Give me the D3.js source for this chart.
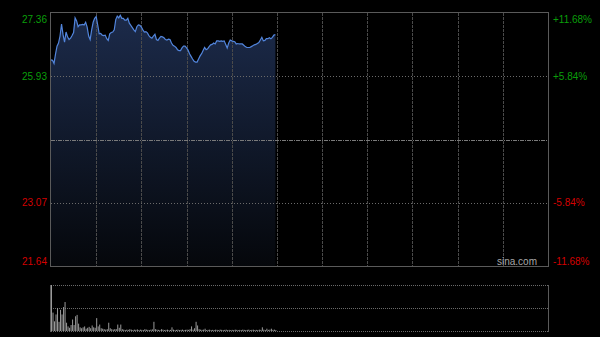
<!DOCTYPE html>
<html>
<head>
<meta charset="utf-8">
<script src="https://cdn.jsdelivr.net/npm/d3@7/dist/d3.min.js"></script>
<style>
  html, body { margin: 0; padding: 0; background: #000; }
  svg { display: block; }
  text { font-family: Arial, "Liberation Sans", sans-serif; font-size: 10px; }
</style>
</head>
<body>
<svg id="chart" width="600" height="337"></svg>
<script>
// intraday session, one value per minute from 9:30
var prevClose = 24.50;
var priceTicks = [21.64, 23.07, 24.50, 25.93, 27.36];
var pctTicks = ['-11.68%', '-5.84%', '', '+5.84%', '+11.68%'];
var timeTicks = [30, 60, 90, 120, 150, 180, 210, 240, 270, 300];

var prices = [
  26.30, 26.29, 26.22, 26.43, 26.61, 26.68, 26.84, 27.11, 26.87, 26.70,
  26.93, 26.82, 26.76, 26.79, 26.85, 26.92, 27.25, 27.18, 27.05, 27.09,
  27.09, 27.10, 27.09, 27.15, 27.04, 26.84, 26.76, 26.98, 27.15, 27.24,
  27.28, 27.09, 26.89, 26.90, 26.86, 26.85, 26.86, 26.78, 26.74, 26.89,
  26.92, 26.93, 26.98, 27.21, 27.29, 27.25, 27.31, 27.24, 27.24, 27.20,
  27.20, 27.24, 27.13, 27.08, 27.03, 26.98, 26.94, 27.05, 27.09, 27.08,
  27.04, 26.98, 26.93, 26.94, 26.91, 26.85, 26.81, 26.79, 26.84, 26.88,
  26.76, 26.74, 26.79, 26.83, 26.82, 26.80, 26.76, 26.75, 26.77, 26.76,
  26.68, 26.63, 26.61, 26.58, 26.53, 26.51, 26.51, 26.57, 26.61, 26.61,
  26.57, 26.52, 26.44, 26.38, 26.32, 26.27, 26.25, 26.25, 26.32, 26.39,
  26.44, 26.51, 26.58, 26.53, 26.55, 26.60, 26.64, 26.65, 26.68, 26.66,
  26.73, 26.73, 26.72, 26.73, 26.72, 26.73, 26.65, 26.57, 26.68, 26.75,
  26.73, 26.72, 26.71, 26.66, 26.67, 26.66, 26.66, 26.66, 26.63, 26.60,
  26.58, 26.58, 26.58, 26.60, 26.62, 26.64, 26.65, 26.67, 26.69, 26.75,
  26.81, 26.73, 26.74, 26.78, 26.78, 26.80, 26.78, 26.81, 26.86, 26.87
];

var volumes = [
  1000, 400, 210, 360, 500, 200, 460, 360, 520, 630,
  180, 100, 70, 130, 250, 130, 320, 350, 160, 80,
  60, 80, 100, 50, 70, 90, 60, 120, 80, 70,
  280, 100, 140, 60, 50, 40, 30, 40, 180, 60,
  40, 30, 40, 40, 140, 70, 140, 40, 30, 20,
  30, 25, 40, 30, 20, 30, 25, 35, 20, 30,
  25, 20, 40, 30, 25, 20, 30, 35, 200, 40,
  30, 25, 20, 40, 30, 20, 25, 30, 20, 25,
  80, 30, 20, 25, 30, 20, 25, 30, 20, 25,
  30, 25, 40, 100, 30, 60, 200, 120, 40, 30,
  25, 30, 50, 20, 25, 30, 20, 25, 20, 30,
  25, 20, 30, 25, 20, 25, 30, 20, 25, 20,
  25, 20, 30, 25, 20, 25, 20, 30, 25, 20,
  25, 30, 20, 25, 30, 20, 25, 20, 30, 25,
  80, 30, 20, 50, 25, 30, 50, 25, 30, 20
];

var svg = d3.select('#chart');
var pLeft = 51, pRight = 548, pTop = 13, pBottom = 266;
var vTop = 285, vBottom = 331;

var xScale = d3.scaleLinear().domain([0, 330]).range([pLeft, pRight]);
var yScale = d3.scaleLinear().domain([21.64, 27.36]).range([pBottom, pTop]);
var vScale = d3.scaleLinear().domain([0, d3.max(volumes)]).range([vBottom, vTop]);

// area gradient
var defs = svg.append('defs');
var grad = defs.append('linearGradient')
  .attr('id', 'areaGrad')
  .attr('gradientUnits', 'userSpaceOnUse')
  .attr('x1', 0).attr('x2', 0)
  .attr('y1', pTop).attr('y2', pBottom);
grad.append('stop').attr('offset', '0%').attr('stop-color', '#1c2b4b');
grad.append('stop').attr('offset', '100%').attr('stop-color', '#05070b');

var area = d3.area()
  .x(function (d, i) { return xScale(i); })
  .y0(pBottom)
  .y1(function (d) { return yScale(d); });

svg.append('path')
  .datum(prices)
  .attr('d', area)
  .attr('fill', 'url(#areaGrad)');

// vertical grid
svg.append('g')
  .selectAll('line')
  .data(timeTicks)
  .enter()
  .append('line')
  .attr('x1', function (d) { return Math.round(xScale(d)) + 0.5; })
  .attr('x2', function (d) { return Math.round(xScale(d)) + 0.5; })
  .attr('y1', pTop)
  .attr('y2', pBottom)
  .attr('stroke', '#4a4a4a')
  .attr('stroke-dasharray', '3,1');

// horizontal grid
svg.append('g')
  .selectAll('line')
  .data([23.07, 25.93])
  .enter()
  .append('line')
  .attr('x1', pLeft)
  .attr('x2', pRight)
  .attr('y1', function (d) { return Math.round(yScale(d)) + 0.5; })
  .attr('y2', function (d) { return Math.round(yScale(d)) + 0.5; })
  .attr('stroke', '#6a6a6a')
  .attr('stroke-dasharray', '1,2');

svg.append('line')
  .attr('x1', pLeft)
  .attr('x2', pRight)
  .attr('y1', Math.round(yScale(prevClose)) + 0.5)
  .attr('y2', Math.round(yScale(prevClose)) + 0.5)
  .attr('stroke', '#7a7a7a')
  .attr('stroke-dasharray', '4,1,1,1');

// price line
var line = d3.line()
  .x(function (d, i) { return xScale(i); })
  .y(function (d) { return yScale(d); });

svg.append('path')
  .datum(prices)
  .attr('d', line)
  .attr('fill', 'none')
  .attr('stroke', '#5285dc')
  .attr('stroke-width', 1.2);

// frame
svg.append('rect')
  .attr('x', pLeft - 0.5)
  .attr('y', pTop - 0.5)
  .attr('width', pRight - pLeft + 1)
  .attr('height', pBottom - pTop + 1)
  .attr('fill', 'none')
  .attr('stroke', '#5a5a5a');

function labelDy(d) {
  if (d === 27.36) return '0.9em';
  if (d === 21.64) return '-0.2em';
  return '0.32em';
}

// left axis labels
var yAxisL = d3.axisLeft(yScale)
  .tickValues(priceTicks.filter(function (d) { return d !== prevClose; }))
  .tickSize(0)
  .tickPadding(4)
  .tickFormat(d3.format('.2f'));

var gL = svg.append('g')
  .attr('transform', 'translate(' + pLeft + ',0)')
  .call(yAxisL);
gL.select('.domain').remove();
gL.selectAll('text')
  .style('font-size', '10px')
  .attr('fill', function (d) { return d > prevClose ? '#0a9e0a' : '#d40000'; })
  .attr('dy', labelDy);

// right axis labels
var yAxisR = d3.axisRight(yScale)
  .tickValues(priceTicks.filter(function (d) { return d !== prevClose; }))
  .tickSize(0)
  .tickPadding(5)
  .tickFormat(function (d) { return pctTicks[priceTicks.indexOf(d)]; });

var gR = svg.append('g')
  .attr('transform', 'translate(' + pRight + ',0)')
  .call(yAxisR);
gR.select('.domain').remove();
gR.selectAll('text')
  .style('font-size', '10px')
  .attr('fill', function (d) { return d > prevClose ? '#0a9e0a' : '#d40000'; })
  .attr('dy', labelDy);

svg.append('text')
  .attr('x', 537)
  .attr('y', 265)
  .attr('text-anchor', 'end')
  .attr('fill', '#a8a8a8')
  .style('font-size', '10px')
  .text('sina.com');

// volume panel
svg.append('g')
  .selectAll('line')
  .data([vTop, (vTop + vBottom) / 2, vBottom])
  .enter()
  .append('line')
  .attr('x1', pLeft)
  .attr('x2', pRight)
  .attr('y1', function (d) { return Math.round(d) + 0.5; })
  .attr('y2', function (d) { return Math.round(d) + 0.5; })
  .attr('stroke', '#6a6a6a')
  .attr('stroke-dasharray', '1,1');

svg.append('line')
  .attr('x1', pRight + 0.5).attr('x2', pRight + 0.5)
  .attr('y1', vTop).attr('y2', vBottom + 1)
  .attr('stroke', '#5a5a5a');
svg.append('line')
  .attr('x1', pLeft - 0.5).attr('x2', pLeft - 0.5)
  .attr('y1', vTop).attr('y2', vBottom + 1)
  .attr('stroke', '#5a5a5a');

svg.append('g')
  .selectAll('rect')
  .data(volumes)
  .enter()
  .append('rect')
  .attr('x', function (d, i) { return xScale(i); })
  .attr('y', function (d) { return vScale(d); })
  .attr('width', 1)
  .attr('height', function (d) { return vBottom - vScale(d); })
  .attr('fill', '#9a9a9a');
</script>
</body>
</html>
